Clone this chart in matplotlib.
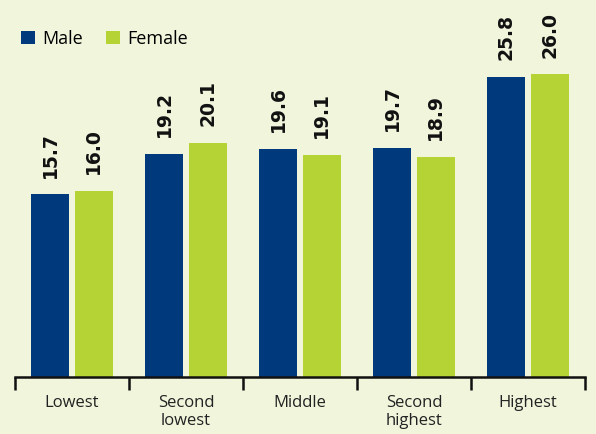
import matplotlib.pyplot as plt
import numpy as np

categories = ["Lowest", "Second\nlowest", "Middle", "Second\nhighest", "Highest"]
male = [15.7, 19.2, 19.6, 19.7, 25.8]
female = [16.0, 20.1, 19.1, 18.9, 26.0]

bg = "#f1f5dc"
blue = "#003a7d"
green = "#b5d334"

plt.rcParams['font.family'] = ['Open Sans', 'DejaVu Sans']

fig = plt.figure(figsize=(5.96, 4.34), dpi=100, facecolor=bg)
ax = fig.add_axes([15/596, 1 - 377/434, 570/596, 377/434])
ax.set_facecolor(bg)

x = np.arange(len(categories))
w = 0.34
gap = 0.022
b1 = ax.bar(x - w/2 - gap, male, w, color=blue, label="Male")
b2 = ax.bar(x + w/2 + gap, female, w, color=green, label="Female")

# value labels, rotated
for bars, vals in ((b1, male), (b2, female)):
    for b, v in zip(bars, vals):
        ax.annotate(f"{v:.1f}", (b.get_x() + b.get_width()/2, v),
                    xytext=(0, 12), textcoords="offset points",
                    rotation=90, ha="center", va="bottom",
                    fontsize=13.5, fontweight="bold", color="#111111",
                    family="DejaVu Sans")

ax.set_xlim(-0.5, len(categories) - 0.5)
ax.set_ylim(0, 32.4)
ax.set_yticks([])
for s in ("top", "right", "left"):
    ax.spines[s].set_visible(False)
ax.spines["bottom"].set_linewidth(1.8)
ax.spines["bottom"].set_color("#111111")

ax.set_xticks(x)
ax.set_xticklabels(categories, fontsize=12, color="#222222", linespacing=1.15)
ax.tick_params(axis="x", length=0, pad=13)
ax.set_xticks(np.arange(-0.5, len(categories)), minor=True)
ax.tick_params(axis="x", which="minor", length=9, width=1.8, color="#111111")

ax.legend(loc="upper left", bbox_to_anchor=(-0.002, 0.94), frameon=False,
          ncol=2, fontsize=13, handlelength=0.75, handleheight=0.75,
          handletextpad=0.45, columnspacing=1.25, borderaxespad=0)

fig.savefig("out.png", dpi=100, facecolor=bg)
